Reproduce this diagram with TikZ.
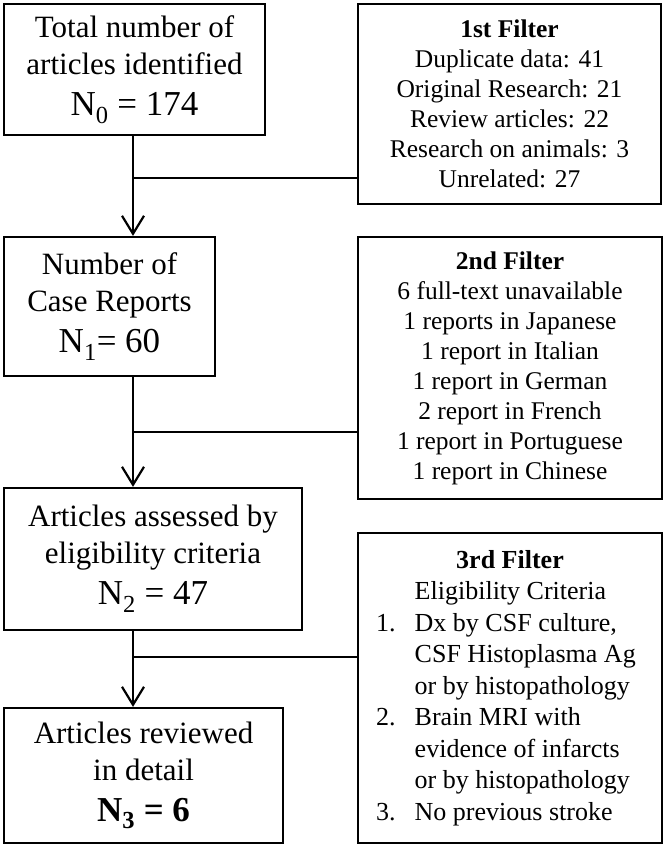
\documentclass[tikz,border=0pt]{standalone}
\usepackage{fontspec}
\setmainfont{Liberation Serif}
\usetikzlibrary{arrows.meta}

\newcommand{\bignum}[1]{{\fontsize{35}{41}\selectfont #1}}

\begin{document}
\begin{tikzpicture}[x=1pt,y=-1pt,>={Straight Barb[length=18pt,width=22pt]},line width=2.2pt,
  box/.style={draw,rectangle,inner sep=0pt,align=center,font=\fontsize{31}{37}\selectfont},
  filt/.style={draw,rectangle,inner sep=0pt,align=center,font=\fontsize{25.5}{30}\selectfont}]

            \useasboundingbox (0,0) rectangle (665,848);

            \node[box, minimum width=261pt, minimum height=131pt] (total) at (134.5,69.5)
                {Total number of\\articles identified\\[4pt]\bignum{N\textsubscript{0} = 174}};
            \node[box, minimum width=211pt, minimum height=139pt] (cases) at (109.5,306.5)
                {Number of\\Case Reports\\[4pt]\bignum{N\textsubscript{1}= 60}};
            \node[box, minimum width=298pt, minimum height=142pt] (assess) at (153,559)
                {Articles assessed by\\eligibility criteria\\[4pt]\bignum{N\textsubscript{2} = 47}};
            \node[box, minimum width=279pt, minimum height=135pt] (review) at (143.5,775.5)
                {Articles reviewed\\in detail\\[4pt]\bignum{\textbf{N\textsubscript{3} = 6}}};

            \node[filt, minimum width=303pt, minimum height=200pt] (filt1) at (509.5,104)
                {\textbf{1st Filter}\\Duplicate data: 41\\Original Research: 21\\Review articles: 22\\Research on animals: 3\\Unrelated: 27};
            \node[filt, minimum width=304pt, minimum height=262pt] (filt2) at (510,368)
                {\textbf{2nd Filter}\\6 full-text unavailable\\1 reports in Japanese\\1 report in Italian\\1 report in German\\2 report in French\\1 report in Portuguese\\1 report in Chinese};
            \node[filt, minimum width=304pt, minimum height=310pt, font=\fontsize{26}{31.5}\selectfont] (filt3) at (510,688)
                {\begin{tabular}{@{}r@{\hspace{19pt}}l@{\hspace{8pt}}}
                 \multicolumn{2}{c}{\textbf{3rd Filter}}\\
                    & Eligibility Criteria\\
                 1. & Dx by CSF culture,\\
                    & CSF Histoplasma Ag\\
                    & or by histopathology\\
                 2. & Brain MRI with\\
                    & evidence of infarcts\\
                    & or by histopathology\\
                 3. & No previous stroke
                 \end{tabular}};

            \coordinate (j1) at (133,178);
            \coordinate (j2) at (133,432);
            \coordinate (j3) at (133,657);

            \draw[->] (total.south -| j1) to (cases.north -| j1);
            \draw[->] (cases.south -| j2) to (assess.north -| j2);
            \draw[->] (assess.south -| j3) to (review.north -| j3);
            \draw[-] (filt1.west |- j1) to (j1);
            \draw[-] (filt2.west |- j2) to (j2);
            \draw[-] (filt3.west |- j3) to (j3);

        \end{tikzpicture}
\end{document}
